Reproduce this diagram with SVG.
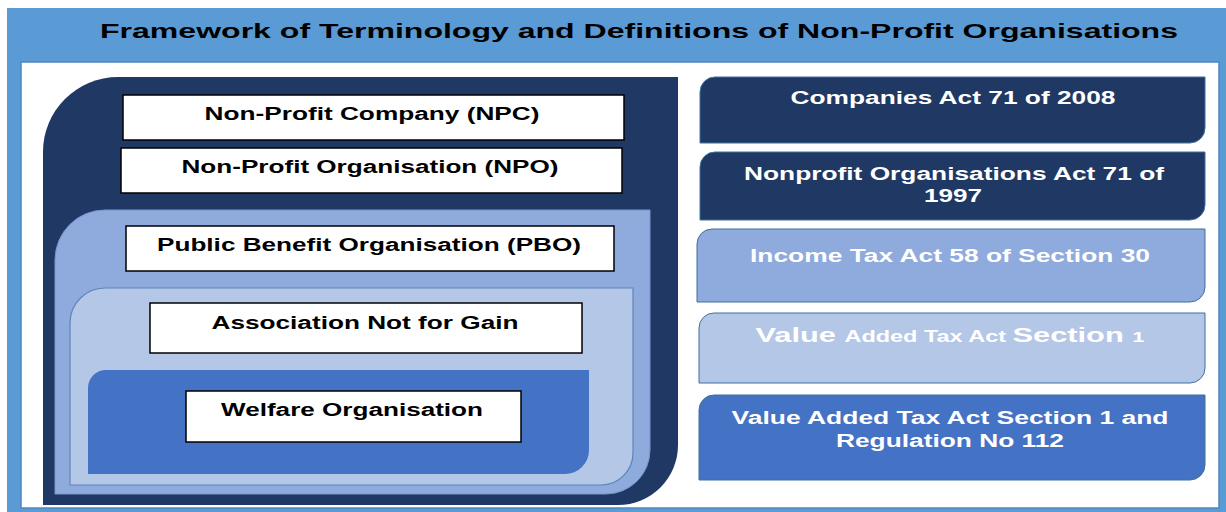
<svg xmlns="http://www.w3.org/2000/svg" width="1226" height="512" viewBox="0 0 1226 512">
  <style>
    .t { font-family: "Liberation Sans", Arial, sans-serif; font-weight: bold; text-anchor: middle; }
    .dark { fill: #000000; font-size: 18px; }
    .light { fill: #ffffff; font-size: 18px; }
    .term { fill: #ffffff; stroke: #000000; stroke-width: 1.5; }
    .navy { fill: #203864; }
    .act { stroke: #41719C; stroke-width: 1; }
  </style>

  <!-- frame and title bar -->
  <rect x="0" y="0" width="1226" height="512" fill="#ffffff"/>
  <rect x="7" y="8" width="1219" height="504" fill="#5B9BD5"/>
  <rect x="21" y="62" width="1198" height="446" fill="#ffffff" stroke="#4F86BE" stroke-width="1.5"/>
  <g id="title">
    <text class="t" x="639" y="38" font-size="21" fill="#000000" textLength="1078" lengthAdjust="spacingAndGlyphs">Framework of Terminology and Definitions of Non-Profit Organisations</text>
  </g>

  <!-- nested scopes of terms -->
  <g id="scope-npc">
    <path class="navy" d="M43,152 A75,75 0 0 1 118,77 L678,77 L678,445 A60,60 0 0 1 618,505 L43,505 Z"/>
  </g>
  <g id="scope-pbo">
    <path d="M55,260 A50,50 0 0 1 105,210 L650,210 L650,450 A44,44 0 0 1 606,494 L55,494 Z" fill="#8FAADC" stroke="#7896CC" stroke-width="1"/>
  </g>
  <g id="scope-assoc">
    <path d="M70,323 A35,35 0 0 1 105,288 L633,288 L633,453 A32,32 0 0 1 601,485 L70,485 Z" fill="#B4C7E7" stroke="#5B86B8" stroke-width="1.2"/>
  </g>
  <g id="scope-welfare">
    <path d="M88,388 A18,18 0 0 1 106,370 L589,370 L589,450 A24,24 0 0 1 565,474 L88,474 Z" fill="#4472C4"/>
  </g>

  <!-- term labels -->
  <g id="npc">
    <rect class="term" x="123" y="95" width="501" height="45"/>
    <text class="t dark" x="372" y="120" textLength="335" lengthAdjust="spacingAndGlyphs">Non-Profit Company (NPC)</text>
  </g>
  <g id="npo">
    <rect class="term" x="121" y="148" width="501" height="45"/>
    <text class="t dark" x="370" y="173" textLength="377" lengthAdjust="spacingAndGlyphs">Non-Profit Organisation (NPO)</text>
  </g>
  <g id="pbo">
    <rect class="term" x="126" y="226" width="488" height="45"/>
    <text class="t dark" x="369" y="251" textLength="424" lengthAdjust="spacingAndGlyphs">Public Benefit Organisation (PBO)</text>
  </g>
  <g id="assoc">
    <rect class="term" x="150" y="303" width="432" height="50"/>
    <text class="t dark" x="365" y="329" textLength="307" lengthAdjust="spacingAndGlyphs">Association Not for Gain</text>
  </g>
  <g id="welfare">
    <rect class="term" x="186" y="391" width="335" height="51"/>
    <text class="t dark" x="352" y="416" textLength="262" lengthAdjust="spacingAndGlyphs">Welfare Organisation</text>
  </g>

  <!-- governing legislation -->
  <g id="companies-act">
    <path class="navy act" d="M700,92 A15,15 0 0 1 715,77 L1205,77 L1205,128 A15,15 0 0 1 1190,143 L700,143 Z"/>
    <text class="t light" x="953" y="104" textLength="325" lengthAdjust="spacingAndGlyphs">Companies Act 71 of 2008</text>
  </g>
  <g id="npo-act">
    <path class="navy act" d="M700,167 A15,15 0 0 1 715,152 L1205,152 L1205,205 A15,15 0 0 1 1190,220 L700,220 Z"/>
    <text class="t light" x="954" y="180" textLength="420" lengthAdjust="spacingAndGlyphs">Nonprofit Organisations Act 71 of</text>
    <text class="t light" x="953" y="202" textLength="58" lengthAdjust="spacingAndGlyphs">1997</text>
  </g>
  <g id="income-tax-act">
    <path class="act" d="M697,244 A15,15 0 0 1 712,229 L1205,229 L1205,287 A15,15 0 0 1 1190,302 L697,302 Z" fill="#8FAADC"/>
    <text class="t light" x="950" y="262" textLength="400" lengthAdjust="spacingAndGlyphs">Income Tax Act 58 of Section 30</text>
  </g>
  <g id="vat-act">
    <path class="act" d="M699,328 A15,15 0 0 1 714,313 L1205,313 L1205,368 A15,15 0 0 1 1190,383 L699,383 Z" fill="#B4C7E7"/>
    <text class="t light" x="950" y="342" textLength="389" lengthAdjust="spacingAndGlyphs"><tspan font-size="21">Value </tspan><tspan font-size="16">Added Tax Act </tspan><tspan font-size="21">Section </tspan><tspan font-size="15">1</tspan></text>
  </g>
  <g id="vat-regulation">
    <path class="act" d="M699,410 A15,15 0 0 1 714,395 L1205,395 L1205,465 A15,15 0 0 1 1190,480 L699,480 Z" fill="#4472C4"/>
    <text class="t light" x="950" y="424" textLength="437" lengthAdjust="spacingAndGlyphs">Value Added Tax Act Section 1 and</text>
    <text class="t light" x="950" y="447" textLength="228" lengthAdjust="spacingAndGlyphs">Regulation No 112</text>
  </g>
</svg>
